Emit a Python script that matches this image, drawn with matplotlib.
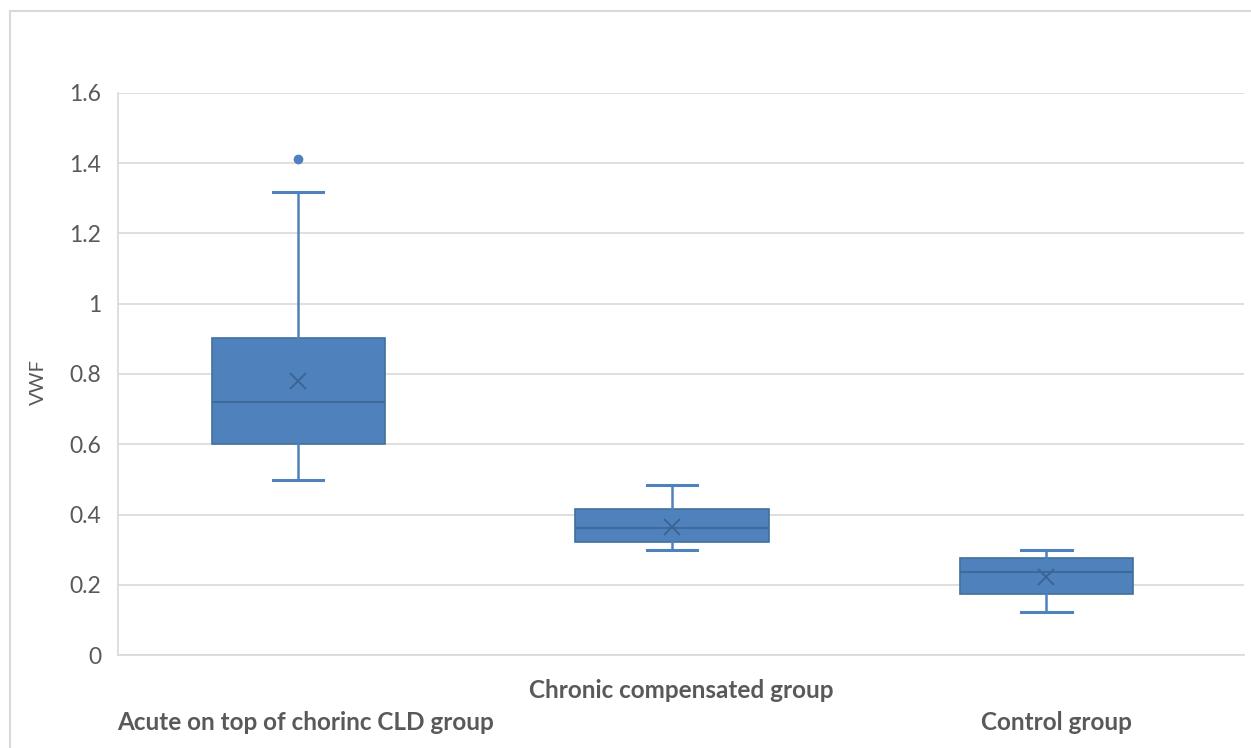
import matplotlib
matplotlib.use("Agg")
import matplotlib.pyplot as plt
from matplotlib.lines import Line2D

# box statistics
groups = ["Acute on top of chorinc CLD group", "Chronic compensated group", "Control group"]
q1 = [0.60, 0.322, 0.174]
median = [0.72, 0.362, 0.237]
q3 = [0.903, 0.416, 0.277]
whis_lo = [0.499, 0.300, 0.123]
whis_hi = [1.317, 0.483, 0.300]
means = [0.781, 0.365, 0.223]
outliers = [[1.412], [], []]

yticks = [0, 0.2, 0.4, 0.6, 0.8, 1, 1.2, 1.4, 1.6]
ytick_labels = ["0", "0.2", "0.4", "0.6", "0.8", "1", "1.2", "1.4", "1.6"]

plt.rcParams['font.family'] = ['Lato', 'DejaVu Sans']

W, H = 1251, 748
fig = plt.figure(figsize=(W / 100, H / 100), dpi=100)
ax = fig.add_axes([118 / W, (H - 655.3) / H, 1126 / W, (655.3 - 92.7) / H])

fill = "#4f81bd"
edge = "#41719c"

stats = []
for i in range(len(groups)):
    stats.append(dict(med=median[i], q1=q1[i], q3=q3[i], whislo=whis_lo[i],
                      whishi=whis_hi[i], mean=means[i], fliers=outliers[i]))

positions = [0.48, 1.476, 2.473]
widths = [0.461, 0.515, 0.461]

ax.bxp(stats, positions=positions, widths=widths, showmeans=True,
       patch_artist=True, manage_ticks=False,
       boxprops=dict(facecolor=fill, edgecolor=edge, linewidth=1.2),
       medianprops=dict(color="#3e6a9a", linewidth=1.5),
       whiskerprops=dict(color=fill, linewidth=1.8),
       capprops=dict(color=fill, linewidth=2.2),
       capwidths=0.135,
       meanprops=dict(marker="x", markeredgecolor="#3b6593", markersize=12,
                      markeredgewidth=1.4),
       flierprops=dict(marker="o", markerfacecolor=fill, markeredgecolor=fill,
                       markersize=6))

ax.set_xlim(0, 3)
ax.set_ylim(0, 1.6)
ax.set_yticks(yticks)
ax.set_yticklabels(ytick_labels)
ax.set_xticks([])
ax.tick_params(axis="y", length=0, pad=12, labelsize=16.5, labelcolor="#595959")
ax.yaxis.grid(True, color="#d9d9d9", linewidth=1.2)
ax.set_axisbelow(True)
for s in ["top", "right"]:
    ax.spines[s].set_visible(False)
ax.spines["left"].set_color("#d9d9d9")
ax.spines["bottom"].set_color("#d9d9d9")
ax.spines["left"].set_linewidth(1.2)
ax.spines["bottom"].set_linewidth(1.2)

ax.set_ylabel("VWF", fontsize=14.5, color="#595959", va="center")
ax.yaxis.set_label_coords(-0.071, 0.486)

# staggered category labels as Excel drew them
label_y = [-0.1186, -0.0617, -0.1186]
for i, g in enumerate(groups):
    ax.text(i + 0.5, label_y[i], g, transform=ax.get_xaxis_transform(),
            ha="center", va="center", fontsize=17.5, fontweight="bold",
            color="#595959")

# chart area border (left and top edges)
fig.add_artist(Line2D([10 / W, 10 / W], [0, 1 - 11 / H], transform=fig.transFigure,
                      color="#d9d9d9", linewidth=1.5))
fig.add_artist(Line2D([10 / W, 1], [1 - 11 / H, 1 - 11 / H], transform=fig.transFigure,
                      color="#d9d9d9", linewidth=1.5))

fig.savefig("out.png", dpi=100)
